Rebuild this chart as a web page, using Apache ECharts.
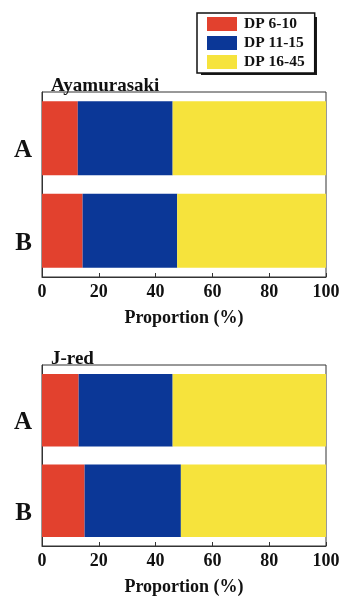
<!DOCTYPE html>
<html>
<head>
<meta charset="utf-8">
<script src="https://cdn.jsdelivr.net/npm/echarts@6/dist/echarts.min.js"></script>
<style>
html,body{margin:0;padding:0;background:#fff;}
#chart{width:347px;height:597px;}
</style>
</head>
<body>
<div id="chart"></div>
<script>
const categories = ['A', 'B'];
const seriesNames = ['DP 6-10', 'DP 11-15', 'DP 16-45'];
const panelTitles = ['Ayamurasaki', 'J-red'];
// Ayamurasaki
const ayaDP6_10 = [12.6, 14.3];
const ayaDP11_15 = [33.4, 33.3];
const ayaDP16_45 = [54.0, 52.4];
// J-red
const jredDP6_10 = [12.9, 15.0];
const jredDP11_15 = [33.1, 33.9];
const jredDP16_45 = [54.0, 51.1];
const xTicks = [0, 20, 40, 60, 80, 100];

const colors = ['#e2412e', '#0b3797', '#f6e33c'];
const FONT = '"Liberation Serif","DejaVu Serif",serif';

const panels = [
  [ayaDP6_10, ayaDP11_15, ayaDP16_45],
  [jredDP6_10, jredDP11_15, jredDP16_45]
];
const gridTops = [92, 365];
const gridHeights = [185, 183];

const grid = gridTops.map((t, i) => ({
  left: 42, right: 21, top: t, height: gridHeights[i],
  show: true, borderColor: '#333', borderWidth: 1, backgroundColor: '#fff'
}));

const xAxis = gridTops.map((t, i) => ({
  type: 'value', gridIndex: i, min: xTicks[0], max: xTicks[xTicks.length - 1],
  interval: xTicks[1] - xTicks[0],
  splitLine: { show: false },
  axisLine: { show: true, lineStyle: { color: '#333', width: 1 } },
  axisTick: { show: true, inside: true, length: 4, lineStyle: { color: '#333' } },
  axisLabel: { color: '#111', fontFamily: FONT, fontWeight: 'bold', fontSize: 18, margin: 6 },
  name: 'Proportion (%)', nameLocation: 'middle', nameGap: 32,
  nameTextStyle: { color: '#111', fontFamily: FONT, fontWeight: 'bold', fontSize: 18 }
}));

const yAxis = gridTops.map((t, i) => ({
  type: 'category', gridIndex: i, data: categories, inverse: true,
  axisLine: { show: true, lineStyle: { color: '#333', width: 1 } },
  axisTick: { show: false },
  axisLabel: { color: '#111', fontFamily: FONT, fontWeight: 'bold', fontSize: 25, margin: 10,
               verticalAlign: 'top' }
}));

const series = [];
panels.forEach((vals, p) => {
  vals.forEach((arr, k) => {
    series.push({
      type: 'bar', name: seriesNames[k], stack: 'p' + p,
      xAxisIndex: p, yAxisIndex: p, data: arr,
      barWidth: '80%', itemStyle: { color: colors[k] },
      silent: true
    });
  });
});

const option = {
  animation: false,
  backgroundColor: '#fff',
  title: panelTitles.map((txt, i) => ({
    text: txt, left: 46, top: [72, 345][i],
    textStyle: { fontFamily: FONT, fontWeight: 'bold', fontSize: 19, color: '#111' }
  })),
  graphic: [{
    type: 'rect', z: 0, silent: true,
    shape: { x: 201, y: 17, width: 116, height: 58 },
    style: { fill: '#1a1a1a' }
  }],
  legend: {
    orient: 'vertical', left: 197, top: 13,
    data: seriesNames,
    itemWidth: 30, itemHeight: 14, itemGap: 3,
    padding: [3, 10, 3, 10],
    borderColor: '#111', borderWidth: 1.5, backgroundColor: '#fff',
    icon: 'rect',
    textStyle: { fontFamily: FONT, fontWeight: 'bold', fontSize: 15.5, color: '#111', lineHeight: 15, padding: [0, 0, 0, 2] }
  },
  grid: grid,
  xAxis: xAxis,
  yAxis: yAxis,
  series: series
};

const chart = echarts.init(document.getElementById('chart'), null, { renderer: 'canvas' });
chart.setOption(option);
</script>
</body>
</html>
